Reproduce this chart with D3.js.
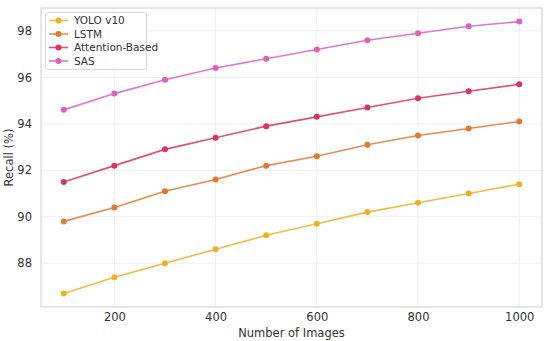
<!DOCTYPE html>
<html><head><meta charset="utf-8">
<script src="https://cdn.jsdelivr.net/npm/d3@7"></script>
<style>body{margin:0;background:#fff}svg{display:block;font-family:"DejaVu Sans",sans-serif}</style>
</head><body>
<script>
const xValues = [100,200,300,400,500,600,700,800,900,1000];
const yolo = [86.7,87.4,88.0,88.6,89.2,89.7,90.2,90.6,91.0,91.4];
const lstm = [89.8,90.4,91.1,91.6,92.2,92.6,93.1,93.5,93.8,94.1];
const attention = [91.5,92.2,92.9,93.4,93.9,94.3,94.7,95.1,95.4,95.7];
const sas = [94.6,95.3,95.9,96.4,96.8,97.2,97.6,97.9,98.2,98.4];
const seriesNames = ["YOLO v10","LSTM","Attention-Based","SAS"];
const seriesColors = ["#efb025","#e27834","#d9345a","#e05fbf"];
const xTicks = [200,400,600,800,1000];
const yTicks = [88,90,92,94,96,98];
const series = [yolo,lstm,attention,sas];

const W=550,H=341, L=41, R=542, T=8, B=307;
const svg=d3.select("body").append("svg").attr("width",W).attr("height",H);
const x=d3.scaleLinear().domain([55,1045]).range([L,R]);
const y=d3.scaleLinear().domain([86.115,98.985]).range([B,T]);

// grid
svg.append("g").selectAll("line").data(xTicks).join("line")
  .attr("x1",d=>x(d)).attr("x2",d=>x(d)).attr("y1",T).attr("y2",B)
  .attr("stroke","#ebebeb").attr("stroke-width",0.8);
svg.append("g").selectAll("line").data(yTicks).join("line")
  .attr("x1",L).attr("x2",R).attr("y1",d=>y(d)).attr("y2",d=>y(d))
  .attr("stroke","#ebebeb").attr("stroke-width",0.8);

// axes (ticks labels)
const xa=svg.append("g").attr("transform",`translate(0,${B})`)
  .call(d3.axisBottom(x).tickValues(xTicks).tickFormat(d3.format("d")).tickSize(0).tickPadding(6));
const ya=svg.append("g").attr("transform",`translate(${L},0)`)
  .call(d3.axisLeft(y).tickValues(yTicks).tickFormat(d3.format("d")).tickSize(0).tickPadding(9));
[xa,ya].forEach(a=>{a.select(".domain").remove();
  a.selectAll("text").attr("font-size",11.5).attr("fill","#333").attr("font-family","DejaVu Sans");});

// spines
svg.append("rect").attr("x",L).attr("y",T).attr("width",R-L).attr("height",B-T)
  .attr("fill","none").attr("stroke","#d0d0d0").attr("stroke-width",1);

// lines
const line=d3.line().x((d,i)=>x(xValues[i])).y(d=>y(d));
series.forEach((s,k)=>{
  svg.append("path").datum(s).attr("d",line).attr("fill","none")
    .attr("stroke",seriesColors[k]).attr("stroke-opacity",0.85).attr("stroke-width",1.6);
  svg.append("g").selectAll("circle").data(s).join("circle")
    .attr("cx",(d,i)=>x(xValues[i])).attr("cy",d=>y(d)).attr("r",3)
    .attr("fill",seriesColors[k]);
});

// axis labels
svg.append("text").attr("x",(L+R)/2).attr("y",337).attr("text-anchor","middle")
  .attr("font-size",11.5).attr("fill","#333").text("Number of Images");
svg.append("text").attr("transform",`translate(13,${(T+B)/2}) rotate(-90)`)
  .attr("text-anchor","middle").attr("font-size",11.5).attr("fill","#333").text("Recall (%)");

// legend
const lg=svg.append("g");
lg.append("rect").attr("x",45.5).attr("y",12.5).attr("width",101).attr("height",57).attr("rx",2)
  .attr("fill","#fff").attr("fill-opacity",0.8).attr("stroke","#d8d8d8");
seriesNames.forEach((n,k)=>{
  const yy=20.5+k*13.5;
  lg.append("line").attr("x1",49).attr("x2",68).attr("y1",yy).attr("y2",yy)
    .attr("stroke",seriesColors[k]).attr("stroke-opacity",0.85).attr("stroke-width",1.6);
  lg.append("circle").attr("cx",58.5).attr("cy",yy).attr("r",3).attr("fill",seriesColors[k]);
  lg.append("text").attr("x",74).attr("y",yy+3.7).attr("font-size",10.5).attr("fill","#333").text(n);
});
</script>
</body></html>
